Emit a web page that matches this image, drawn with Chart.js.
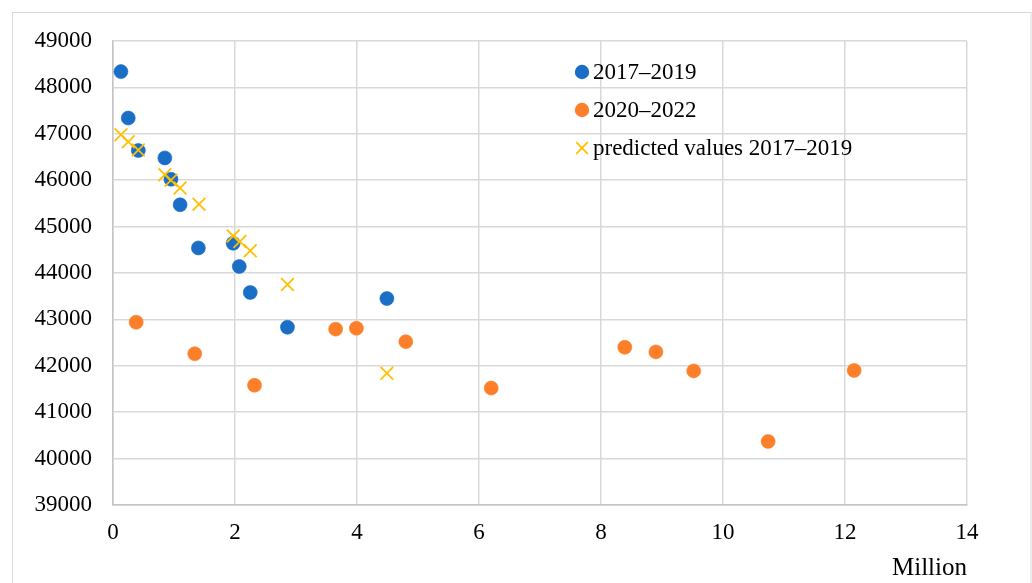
<!DOCTYPE html>
<html>
<head>
<meta charset="utf-8">
<script src="https://cdn.jsdelivr.net/npm/chart.js@4/dist/chart.umd.min.js"></script>
<style>
  html, body { margin: 0; padding: 0; background: #ffffff; }
  #wrap { position: relative; width: 1032px; height: 583px; }
</style>
</head>
<body>
<div id="wrap"><canvas id="c"></canvas></div>
<script>
// ---- data ----
const seriesLabels = ['2017–2019', '2020–2022', 'predicted values 2017–2019'];
const x2017 = [0.13, 0.25, 0.415, 0.85, 0.95, 1.10, 1.40, 1.97, 2.07, 2.25, 2.86, 4.49];
const y2017 = [48340, 47340, 46640, 46480, 46020, 45470, 44540, 44640, 44140, 43580, 42830, 43450];
const xPred = [0.13, 0.25, 0.415, 0.85, 0.95, 1.10, 1.41, 1.97, 2.08, 2.25, 2.86, 4.49];
const yPred = [46980, 46830, 46650, 46120, 46000, 45830, 45480, 44800, 44680, 44480, 43750, 41840];
const x2020 = [0.38, 1.34, 2.32, 3.65, 3.99, 4.80, 6.20, 8.39, 8.90, 9.52, 10.74, 12.15];
const y2020 = [42940, 42260, 41580, 42790, 42810, 42520, 41520, 42400, 42300, 41890, 40370, 41900];
const xTicks = [0, 2, 4, 6, 8, 10, 12, 14];
const yTicks = [39000, 40000, 41000, 42000, 43000, 44000, 45000, 46000, 47000, 48000, 49000];
const xAxisTitle = 'Million';

// ---- styles ----
const FONT = "'Liberation Serif', 'Times New Roman', serif";
const BLUE = '#1b6ec6';
const ORANGE = '#fd7f2a';
const YELLOW = '#ffc000';
const GRID = '#d9d9d9';
const AXIS = '#c4c4c4';

const toPts = (xs, ys) => xs.map((x, i) => ({ x: x, y: ys[i] }));

const framePlugin = {
  id: 'outerFrame',
  beforeDraw(chart) {
    const ctx = chart.ctx;
    ctx.save();
    ctx.strokeStyle = GRID;
    ctx.lineWidth = 1;
    ctx.strokeRect(12.5, 12.5, 1018.5, 620);
    ctx.restore();
  }
};

const legendPlugin = {
  id: 'insideLegend',
  afterDraw(chart) {
    const ctx = chart.ctx;
    const ca = chart.chartArea;
    const mx = ca.left + 469;
    const tx = ca.left + 480;
    const y0 = ca.top + 31;
    const gap = 38;
    ctx.save();
    ctx.font = '23px ' + FONT;
    ctx.textBaseline = 'middle';
    ctx.textAlign = 'left';
    const legendOrder = [0, 1, 2];
    legendOrder.forEach((di, row) => {
      const ds = chart.data.datasets[di];
      const y = y0 + row * gap;
      if (ds.pointStyle === 'crossRot') {
        const r = 5.8;
        ctx.strokeStyle = ds.borderColor;
        ctx.lineWidth = 1.8;
        ctx.beginPath();
        ctx.moveTo(mx - r, y - r); ctx.lineTo(mx + r, y + r);
        ctx.moveTo(mx - r, y + r); ctx.lineTo(mx + r, y - r);
        ctx.stroke();
      } else {
        ctx.fillStyle = ds.backgroundColor;
        ctx.beginPath();
        ctx.arc(mx, y, 7.2, 0, Math.PI * 2);
        ctx.fill();
      }
      ctx.fillStyle = '#000000';
      ctx.fillText(ds.label, tx, y + 1);
    });
    ctx.restore();
  }
};

new Chart(document.getElementById('c'), {
  type: 'scatter',
  data: {
    datasets: [
      {
        label: seriesLabels[0],
        data: toPts(x2017, y2017),
        pointStyle: 'circle',
        pointRadius: 7,
        borderWidth: 0.6,
        backgroundColor: BLUE,
        borderColor: BLUE,
        order: 2
      },
      {
        label: seriesLabels[1],
        data: toPts(x2020, y2020),
        pointStyle: 'circle',
        pointRadius: 7,
        borderWidth: 0.6,
        backgroundColor: ORANGE,
        borderColor: ORANGE,
        order: 1
      },
      {
        label: seriesLabels[2],
        data: toPts(xPred, yPred),
        pointStyle: 'crossRot',
        pointRadius: 9,
        borderWidth: 1.8,
        backgroundColor: YELLOW,
        borderColor: YELLOW,
        order: 0
      }
    ]
  },
  options: {
    responsive: true,
    maintainAspectRatio: false,
    animation: false,
    devicePixelRatio: 1,
    layout: { padding: { top: 41, right: 65, left: 0, bottom: 0 } },
    plugins: {
      legend: { display: false },
      tooltip: { enabled: false },
      title: { display: false }
    },
    scales: {
      x: {
        type: 'linear',
        position: 'bottom',
        min: 0,
        max: 14,
        afterBuildTicks: s => { s.ticks = xTicks.map(v => ({ value: v })); },
        afterFit: s => { s.height = 78; },
        grid: { color: GRID, lineWidth: 1.5, drawTicks: false },
        border: { display: true, color: AXIS, width: 1.5 },
        ticks: {
          padding: 14,
          color: '#000000',
          font: { family: FONT, size: 23 },
          maxRotation: 0,
          autoSkip: false
        },
        title: {
          display: true,
          text: xAxisTitle,
          align: 'end',
          color: '#000000',
          font: { family: FONT, size: 25, lineHeight: 1.2 },
          padding: { top: 0, bottom: 0 }
        }
      },
      y: {
        type: 'linear',
        min: 39000,
        max: 49000,
        afterBuildTicks: s => { s.ticks = yTicks.map(v => ({ value: v })); },
        afterFit: s => { s.width = 113; },
        grid: { color: GRID, lineWidth: 1.5, drawTicks: false },
        border: { display: true, color: AXIS, width: 1.5 },
        ticks: {
          padding: 21,
          color: '#000000',
          font: { family: FONT, size: 23 },
          callback: v => String(v),
          autoSkip: false
        }
      }
    }
  },
  plugins: [framePlugin, legendPlugin]
});
</script>
</body>
</html>
